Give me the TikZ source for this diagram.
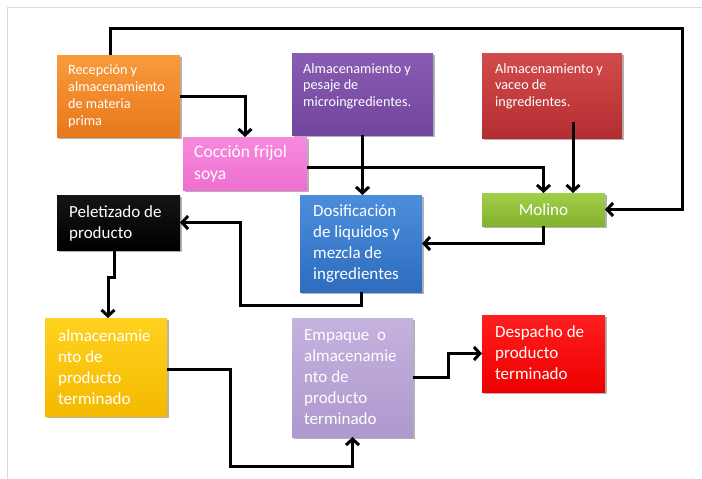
\documentclass[tikz,border=0pt]{standalone}
\usepackage{fontspec}
\setmainfont{Carlito}
\usetikzlibrary{arrows.meta,shadows,calc}
\definecolor{recA}{HTML}{F99B3C}\definecolor{recB}{HTML}{E8781C}
\definecolor{cocA}{HTML}{F78ADD}\definecolor{cocB}{HTML}{EE6FD0}
\definecolor{pesA}{HTML}{8A5DB4}\definecolor{pesB}{HTML}{71449E}
\definecolor{vacA}{HTML}{D24C4D}\definecolor{vacB}{HTML}{B42E31}
\definecolor{molA}{HTML}{A2CF4A}\definecolor{molB}{HTML}{84B12D}
\definecolor{dosA}{HTML}{4C8EDC}\definecolor{dosB}{HTML}{2D6CBE}
\definecolor{pelA}{HTML}{151515}\definecolor{pelB}{HTML}{000000}
\definecolor{almA}{HTML}{FFD21E}\definecolor{almB}{HTML}{F4B900}
\definecolor{empA}{HTML}{C5B2DE}\definecolor{empB}{HTML}{AE98CE}
\definecolor{desA}{HTML}{FF1E1E}\definecolor{desB}{HTML}{EE0000}
\definecolor{frame}{HTML}{D9D9D9}
\begin{document}
\begin{tikzpicture}[x=1pt,y=-1pt,
  box/.style={rectangle, inner sep=0pt, outer sep=0pt, anchor=north west,
    drop shadow={shadow xshift=1.5pt, shadow yshift=-2pt, opacity=0.3, fill=black}},
  lbl/.style={anchor=north west, inner sep=0pt, align=left, text=white},
  big/.style={font=\fontsize{17}{21}\selectfont},
  small/.style={font=\fontsize{14.2}{16.8}\selectfont},
  ln/.style={draw=black, line width=3pt},
  arr/.style={ln, -{Straight Barb[length=6pt,width=13pt]}},
]
\useasboundingbox (0,0) rectangle (702,479);
\draw[frame, line width=1pt] (7,479) -- (7,7) -- (702,7);

% boxes
\node[box, minimum width=123pt, minimum height=82pt, top color=recA, bottom color=recB] (rec) at (57,55) {};
\node[box, minimum width=141pt, minimum height=82pt, top color=pesA, bottom color=pesB] (pes) at (292,53) {};
\node[box, minimum width=140pt, minimum height=85pt, top color=vacA, bottom color=vacB] (vac) at (482,53) {};
\node[box, minimum width=124pt, minimum height=53pt, top color=cocA, bottom color=cocB] (coc) at (183,137) {};
\node[box, minimum width=123pt, minimum height=33pt, top color=molA, bottom color=molB] (mol) at (482,193) {};
\node[box, minimum width=122pt, minimum height=97pt, top color=dosA, bottom color=dosB] (dos) at (300,195) {};
\node[box, minimum width=123pt, minimum height=55pt, top color=pelA, bottom color=pelB] (pel) at (57,195) {};
\node[box, minimum width=122pt, minimum height=98pt, top color=almA, bottom color=almB] (alm) at (45,318) {};
\node[box, minimum width=121pt, minimum height=119pt, top color=empA, bottom color=empB] (emp) at (292,318) {};
\node[box, minimum width=123pt, minimum height=77pt, top color=desA, bottom color=desB] (des) at (482,315) {};

% texts
\node[lbl, small] (trec) at (68,65) {Recepción y\\almacenamiento\\de materia\\prima};
\node[lbl, small] (tpes) at (303,63) {Almacenamiento y\\pesaje de\\microingredientes.};
\node[lbl, small] (tvac) at (495,63) {Almacenamiento y\\vaceo de\\ingredientes.};
\node[lbl, font=\fontsize{17.5}{22}\selectfont] (tcoc) at (194,145) {Cocción frijol\\soya};
\node[big, text=white, inner sep=0pt] (tmol) at (mol.center) {Molino};
\node[lbl, big] (tdos) at (313,205) {Dosificación\\de liquidos y\\mezcla de\\ingredientes};
\node[lbl, big] (tpel) at (69,205) {Peletizado de\\producto};
\node[lbl, big] (talm) at (58,329) {almacenamie\\nto de\\producto\\terminado};
\node[lbl, big] (temp) at (304,329) {Empaque~ o\\almacenamie\\nto de\\producto\\terminado};
\node[lbl, big] (tdes) at (495,325) {Despacho de\\producto\\terminado};

% joints
\coordinate (jtop) at (682,28);
\coordinate (jvac) at ($(vac.south)+(21,-16)$);
\coordinate (jdos) at (240,305);
\coordinate (jalm) at (230,466);
\coordinate (jemp) at (448,353.5);

% connectors
\draw[arr] ([xshift=-8.5pt]rec.north) |- (jtop) |- (mol.east);
\draw[arr] (rec.east) -| (coc.north);
\draw[arr] ([yshift=-3.5pt]coc.east) -| (mol.north);
\draw[arr] (pes.south) -- (pes.south |- dos.north);
\draw[arr] (jvac) -- (jvac |- mol.north);
\draw[arr] (mol.south) |- (dos.east);
\draw[arr] (dos.south) |- (jdos) |- (pel.east);
\draw[arr] ([xshift=-4.5pt]pel.south) -- ++(0,27) -| ([xshift=2pt]alm.north);
\draw[arr] ([yshift=-2pt]alm.east) -| (jalm) -| (emp.south);
\draw[arr] (emp.east) -| (jemp) -- (des.west);
\end{tikzpicture}
\end{document}
